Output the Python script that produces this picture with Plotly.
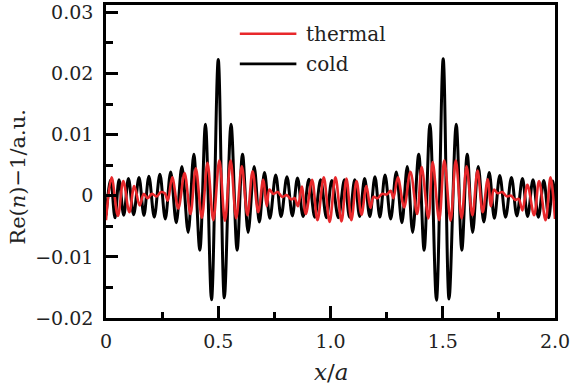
import plotly.graph_objects as go

# ---- data (extrema of the oscillations) ----
cold_x = [0.000, 0.021, 0.040, 0.058, 0.079, 0.100, 0.123, 0.147, 0.169, 0.191,
          0.215, 0.240, 0.264, 0.288, 0.313, 0.338, 0.366, 0.391, 0.418, 0.443,
          0.470, 0.500, 0.527, 0.557, 0.584, 0.608, 0.633, 0.660, 0.683, 0.706,
          0.730, 0.756, 0.780, 0.806, 0.830, 0.853, 0.878, 0.904, 0.930, 0.956,
          0.982, 1.006, 1.035, 1.062, 1.085, 1.108, 1.130, 1.152, 1.175, 1.198,
          1.220, 1.243, 1.268, 1.293, 1.318, 1.342, 1.366, 1.393, 1.417, 1.443,
          1.472, 1.502, 1.528, 1.560, 1.585, 1.609, 1.633, 1.658, 1.683, 1.707,
          1.730, 1.754, 1.780, 1.806, 1.830, 1.855, 1.878, 1.902, 1.926, 1.950,
          1.972, 1.990, 2.000]
cold_y = [-0.0032, 0.0026, -0.0036, 0.0026, -0.0032, 0.0028, -0.0031, 0.0030, -0.0032, 0.0032,
          -0.0035, 0.0035, -0.0038, 0.0039, -0.0044, 0.0048, -0.0060, 0.0068, -0.0089, 0.0117,
          -0.0170, 0.0223, -0.0167, 0.0117, -0.0089, 0.0068, -0.0060, 0.0048, -0.0043, 0.0038,
          -0.0037, 0.0034, -0.0034, 0.0031, -0.0033, 0.0029, -0.0034, 0.0027, -0.0035, 0.0026,
          -0.0036, 0.0025, -0.0036, 0.0026, -0.0035, 0.0026, -0.0034, 0.0028, -0.0034, 0.0031,
          -0.0035, 0.0034, -0.0038, 0.0039, -0.0044, 0.0048, -0.0060, 0.0068, -0.0089, 0.0117,
          -0.0171, 0.0224, -0.0169, 0.0117, -0.0089, 0.0068, -0.0060, 0.0048, -0.0043, 0.0038,
          -0.0037, 0.0033, -0.0035, 0.0030, -0.0033, 0.0028, -0.0034, 0.0026, -0.0035, 0.0025,
          -0.0036, 0.0024, -0.0010]

thermal_x = [0.000, 0.025, 0.053, 0.077, 0.104, 0.126, 0.150, 0.168, 0.185, 0.205,
             0.225, 0.245, 0.262, 0.275, 0.295, 0.322, 0.350, 0.376, 0.400, 0.427,
             0.452, 0.478, 0.505, 0.530, 0.555, 0.580, 0.605, 0.630, 0.653, 0.678,
             0.700, 0.716, 0.728, 0.745, 0.765, 0.785, 0.805, 0.825, 0.840, 0.855,
             0.872, 0.890, 0.918, 0.942, 0.970, 0.996, 1.022, 1.049, 1.071, 1.093,
             1.116, 1.138, 1.160, 1.178, 1.192, 1.210, 1.230, 1.250, 1.268, 1.280,
             1.300, 1.328, 1.356, 1.386, 1.406, 1.436, 1.455, 1.484, 1.507, 1.535,
             1.558, 1.584, 1.606, 1.632, 1.655, 1.678, 1.700, 1.715, 1.728, 1.745,
             1.765, 1.785, 1.805, 1.822, 1.838, 1.855, 1.877, 1.907, 1.929, 1.958,
             1.980, 2.000]
thermal_y = [-0.0040, 0.0030, -0.0033, 0.0024, -0.0027, 0.0016, -0.0016, 0.0003, -0.0004, 0.0003,
             -0.0001, 0.0006, 0.0004, -0.0008, 0.0030, -0.0021, 0.0037, -0.0030, 0.0045, -0.0036,
             0.0054, -0.0040, 0.0058, -0.0041, 0.0058, -0.0037, 0.0048, -0.0032, 0.0040, -0.0027,
             0.0026, -0.0017, 0.0010, 0.0003, 0.0006, -0.0002, 0.0001, -0.0006, -0.0004, -0.0017,
             0.0015, -0.0030, 0.0026, -0.0040, 0.0030, -0.0043, 0.0030, -0.0042, 0.0028, -0.0040,
             0.0024, -0.0031, 0.0016, -0.0020, -0.0002, -0.0004, 0.0003, 0.0002, 0.0008, -0.0004,
             0.0030, -0.0019, 0.0039, -0.0030, 0.0047, -0.0037, 0.0055, -0.0040, 0.0058, -0.0041,
             0.0058, -0.0037, 0.0048, -0.0032, 0.0041, -0.0027, 0.0027, -0.0017, 0.0010, 0.0004,
             0.0006, -0.0001, 0.0000, -0.0007, -0.0005, -0.0024, 0.0018, -0.0032, 0.0024, -0.0040,
             0.0030, -0.0038]

x_tickvals = [0, 0.5, 1.0, 1.5, 2.0]
x_ticktext = ["0", "0.5", "1.0", "1.5", "2.0"]
series_names = ["thermal", "cold"]

RED = "#e8282b"
BLACK = "#000000"
FONT = "DejaVu Serif"
TEXT = "#222222"

fig = go.Figure()
fig.add_trace(go.Scatter(x=cold_x, y=cold_y, mode="lines", name=series_names[1],
                         line=dict(color=BLACK, width=3.0, shape="spline", smoothing=1.0),
                         showlegend=False))
fig.add_trace(go.Scatter(x=thermal_x, y=thermal_y, mode="lines", name=series_names[0],
                         line=dict(color=RED, width=2.6, shape="spline", smoothing=1.0),
                         showlegend=False))

# legend drawn manually (long line samples like the reference)
legend_y = [0.908, 0.812]
legend_col = [RED, BLACK]
for yy, cc, nm in zip(legend_y, legend_col, series_names):
    fig.add_shape(type="line", xref="paper", yref="paper", x0=0.298, x1=0.424,
                  y0=yy, y1=yy, line=dict(color=cc, width=2.6))
    fig.add_annotation(xref="paper", yref="paper", x=0.442, y=yy, text=nm,
                       showarrow=False, xanchor="left", yanchor="middle",
                       font=dict(family=FONT, size=20, color=TEXT))

# axis titles
fig.add_annotation(xref="paper", yref="paper", x=(331 - 106) / 450, y=(318 - 372) / 314,
                   text="<i>x</i>/<i>a</i>", showarrow=False, xanchor="center", yanchor="middle",
                   font=dict(family=FONT, size=23, color=TEXT))
fig.add_annotation(xref="paper", yref="paper", x=(18 - 106) / 450, y=(318 - 176) / 314,
                   text="Re(<i>n</i>)\u22121/a.u.", showarrow=False, textangle=-90,
                   xanchor="center", yanchor="middle",
                   font=dict(family=FONT, size=21, color=TEXT))

axis_common = dict(showgrid=False, zeroline=False, showline=True, linecolor="black",
                   linewidth=2.6, mirror=True, ticks="inside", tickcolor="black",
                   tickwidth=2.6, ticklen=12,
                   tickfont=dict(family=FONT, size=19, color=TEXT))

fig.update_xaxes(range=[0, 2], tickmode="array", tickvals=x_tickvals, ticktext=x_ticktext,
                 minor=dict(ticks="inside", dtick=0.25, ticklen=6, tickwidth=2.6,
                            tickcolor="black"),
                 ticklabelstandoff=4, **axis_common)
fig.update_yaxes(range=[-0.02, 0.0312], tick0=0, dtick=0.01,
                 minor=dict(ticks="inside", dtick=0.005, ticklen=7, tickwidth=2.6,
                            tickcolor="black"),
                 ticklabelstandoff=6, **axis_common)

fig.update_layout(width=572, height=392, margin=dict(l=106, r=16, t=2, b=74),
                  paper_bgcolor="white", plot_bgcolor="white", showlegend=False)

fig.write_html("out.html", config={"displayModeBar": False},
               post_script="document.body.style.margin='0';document.body.style.overflow='hidden';")
